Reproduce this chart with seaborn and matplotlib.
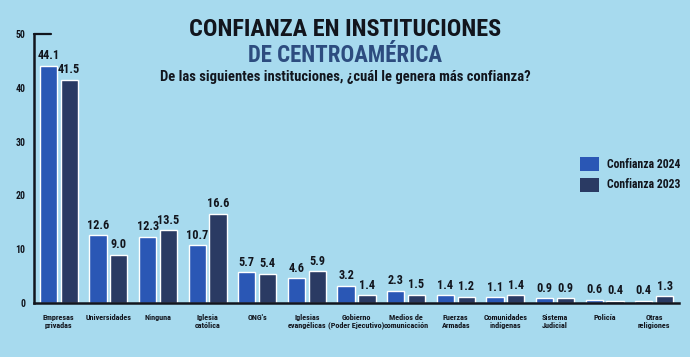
import matplotlib
matplotlib.use("Agg")
import matplotlib.pyplot as plt
import pandas as pd
import seaborn as sns
from matplotlib.ticker import MultipleLocator
from matplotlib.patches import Patch

CATEGORIES = [
    "Empresas\nprivadas", "Universidades", "Ninguna", "Iglesia\ncatólica", "ONG's",
    "Iglesias\nevangélicas", "Gobierno\n(Poder Ejecutivo)", "Medios de\ncomunicación",
    "Fuerzas\nArmadas", "Comunidades\nindígenas", "Sistema\nJudicial", "Policía",
    "Otras\nreligiones",
]
CONF_2024 = [44.1, 12.6, 12.3, 10.7, 5.7, 4.6, 3.2, 2.3, 1.4, 1.1, 0.9, 0.6, 0.4]
CONF_2023 = [41.5, 9.0, 13.5, 16.6, 5.4, 5.9, 1.4, 1.5, 1.2, 1.4, 0.9, 0.4, 1.3]
SERIES = ["Confianza 2024", "Confianza 2023"]

BG = "#a7daee"
COLORS = ["#2a57b5", "#2a3a63"]
INK = "#12151d"
NAVY = "#2d4c7f"
FONT = ["Roboto Condensed", "DejaVu Sans"]

sns.set_theme(style="white")
plt.rcParams["font.family"] = FONT
plt.rcParams["font.weight"] = "bold"

df = pd.DataFrame({
    "cat": CATEGORIES * 2,
    "serie": [SERIES[0]] * len(CATEGORIES) + [SERIES[1]] * len(CATEGORIES),
    "valor": CONF_2024 + CONF_2023,
})

W, H = 690, 357
fig = plt.figure(figsize=(W / 100, H / 100), dpi=100, facecolor=BG)
ax = fig.add_axes([34 / W, 1 - 303 / H, 645 / W, 269 / H])
ax.set_facecolor(BG)

sns.barplot(data=df, x="cat", y="valor", hue="serie", hue_order=SERIES,
            palette=COLORS, width=0.84, gap=0.17, ax=ax, legend=False,
            saturation=1)

for cont in ax.containers:
    ax.bar_label(cont, fmt="%.1f", padding=2.5, fontsize=8.8,
                 fontweight="bold", color=INK)

ax.set_ylim(0, 50)
ax.set_xlim(-0.5, len(CATEGORIES) - 0.5)
ax.yaxis.set_major_locator(MultipleLocator(10))
ax.set_xlabel("")
ax.set_ylabel("")
for side in ["top", "right"]:
    ax.spines[side].set_visible(False)
for side in ["left", "bottom"]:
    ax.spines[side].set_color(INK)
    ax.spines[side].set_linewidth(1.8)
# short cap at the top of the y axis
ax.axhline(50, xmin=0, xmax=0.026, color=INK, linewidth=1.6, clip_on=False)

ax.tick_params(axis="y", direction="inout", length=6, width=1.3, color=INK,
               labelsize=7, labelcolor=INK, pad=3)
ax.tick_params(axis="x", length=0, labelsize=5.9, labelcolor=INK, pad=8)
ax.set_xticks(range(len(CATEGORIES)))
ax.set_xticklabels(CATEGORIES, fontweight="bold", linespacing=1.1)
ax.set_xticks([i + 0.5 for i in range(len(CATEGORIES))], minor=True)
ax.tick_params(axis="x", which="minor", direction="in", length=5, width=1.3,
               color=INK)
for lbl in ax.get_yticklabels():
    lbl.set_fontweight("bold")

fig.text(0.5, 1 - 29.5 / H, "CONFIANZA EN INSTITUCIONES", ha="center", va="center",
         fontsize=17.5, fontweight=900, color=INK)
fig.text(0.5, 1 - 55 / H, "DE CENTROAMÉRICA", ha="center", va="center",
         fontsize=16.5, fontweight=900, color=NAVY)
fig.text(0.5, 1 - 77 / H, "De las siguientes instituciones, ¿cuál le genera más confianza?",
         ha="center", va="center", fontsize=10.5, fontweight="bold", color=INK)

handles = [Patch(facecolor=c, edgecolor="none") for c in COLORS]
leg = fig.legend(handles, SERIES, loc="upper left",
                 bbox_to_anchor=(580 / W, 1 - 157 / H), frameon=False,
                 fontsize=8.5, handlelength=1.6, handleheight=1.45,
                 handletextpad=0.7, labelspacing=0.55, borderpad=0,
                 borderaxespad=0)
for t in leg.get_texts():
    t.set_fontweight("bold")
    t.set_color(INK)

fig.savefig("out.png", dpi=100, facecolor=BG)
